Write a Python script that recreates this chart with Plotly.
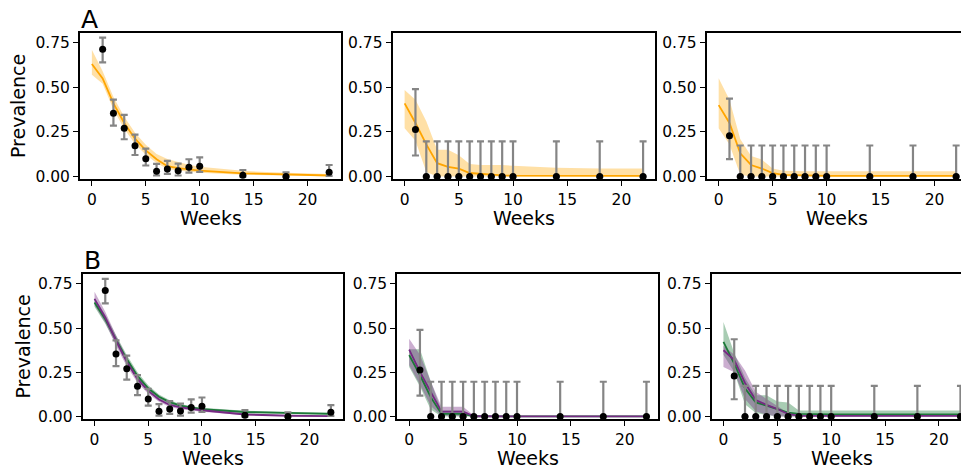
import plotly.graph_objects as go

W, H = 961, 470

# ---------------- data ----------------
weeks = [1, 2, 3, 4, 5, 6, 7, 8, 9, 10, 14, 18, 22]
model_t = [0, 1, 2, 3, 4, 5, 6, 7, 8, 9, 10, 14, 18, 22]

# observed prevalence (same in rows A and B), per column
obs_c1 = [0.713, 0.354, 0.270, 0.172, 0.100, 0.030, 0.043, 0.032, 0.052, 0.058, 0.007, 0.000, 0.024]
lo_c1 = [0.640, 0.285, 0.209, 0.121, 0.062, 0.006, 0.015, 0.006, 0.022, 0.026, 0.000, 0.000, 0.004]
hi_c1 = [0.778, 0.431, 0.345, 0.235, 0.157, 0.071, 0.088, 0.073, 0.097, 0.108, 0.037, 0.024, 0.065]

obs_c2 = [0.263, 0, 0, 0, 0, 0, 0, 0, 0, 0, 0, 0, 0]
lo_c2 = [0.118, 0, 0, 0, 0, 0, 0, 0, 0, 0, 0, 0, 0]
hi_c2 = [0.490, 0.197, 0.197, 0.197, 0.197, 0.197, 0.197, 0.197, 0.197, 0.197, 0.197, 0.197, 0.197]

obs_c3 = [0.229, 0, 0, 0, 0, 0, 0, 0, 0, 0, 0, 0, 0]
lo_c3 = [0.098, 0, 0, 0, 0, 0, 0, 0, 0, 0, 0, 0, 0]
hi_c3 = [0.437, 0.174, 0.174, 0.174, 0.174, 0.174, 0.174, 0.174, 0.174, 0.174, 0.174, 0.174, 0.174]

# row A model (orange)
a1_mid = [0.630, 0.550, 0.410, 0.300, 0.212, 0.147, 0.097, 0.058, 0.048, 0.039, 0.033, 0.018, 0.010, 0.006]
a1_lo = [0.570, 0.520, 0.375, 0.268, 0.182, 0.122, 0.076, 0.042, 0.034, 0.027, 0.022, 0.010, 0.004, 0.002]
a1_hi = [0.710, 0.590, 0.445, 0.335, 0.245, 0.178, 0.127, 0.098, 0.082, 0.066, 0.055, 0.032, 0.021, 0.015]

a2_mid = [0.410, 0.300, 0.180, 0.075, 0.055, 0.045, 0.020, 0.015, 0.010, 0.007, 0.005, 0.004, 0.004, 0.004]
a2_lo = [0.270, 0.200, 0.025, 0, 0, 0, 0, 0, 0, 0, 0, 0, 0, 0]
a2_hi = [0.485, 0.430, 0.310, 0.150, 0.150, 0.120, 0.070, 0.065, 0.065, 0.065, 0.060, 0.050, 0.045, 0.045]

a3_mid = [0.400, 0.300, 0.130, 0.065, 0.045, 0.020, 0.010, 0.007, 0.005, 0.005, 0.004, 0.004, 0.004, 0.004]
a3_lo = [0.270, 0.180, 0.010, 0, 0, 0, 0, 0, 0, 0, 0, 0, 0, 0]
a3_hi = [0.550, 0.430, 0.210, 0.115, 0.095, 0.045, 0.033, 0.030, 0.030, 0.030, 0.030, 0.030, 0.030, 0.030]

# row B models: green and purple
b1_g_mid = [0.645, 0.550, 0.435, 0.325, 0.230, 0.160, 0.112, 0.082, 0.062, 0.050, 0.042, 0.026, 0.019, 0.016]
b1_g_lo = [0.620, 0.525, 0.410, 0.303, 0.210, 0.145, 0.099, 0.071, 0.053, 0.042, 0.034, 0.019, 0.013, 0.010]
b1_g_hi = [0.670, 0.575, 0.460, 0.348, 0.250, 0.177, 0.125, 0.093, 0.071, 0.058, 0.050, 0.033, 0.026, 0.023]
b1_p_mid = [0.665, 0.560, 0.430, 0.310, 0.212, 0.145, 0.097, 0.066, 0.052, 0.043, 0.036, 0.012, 0.005, 0.003]
b1_p_lo = [0.630, 0.530, 0.400, 0.285, 0.192, 0.129, 0.084, 0.055, 0.042, 0.035, 0.028, 0.007, 0.002, 0.001]
b1_p_hi = [0.705, 0.592, 0.460, 0.335, 0.234, 0.162, 0.110, 0.077, 0.062, 0.051, 0.044, 0.018, 0.009, 0.006]

b2_g_mid = [0.347, 0.235, 0.110, 0.015, 0.015, 0.015, 0.002, 0.001, 0.001, 0.001, 0.001, 0.001, 0.001, 0.001]
b2_g_lo = [0.280, 0.170, 0.040, 0, 0, 0, 0, 0, 0, 0, 0, 0, 0, 0]
b2_g_hi = [0.380, 0.380, 0.200, 0.035, 0.035, 0.035, 0.004, 0.002, 0.002, 0.002, 0.002, 0.002, 0.002, 0.002]
b2_p_mid = [0.379, 0.253, 0.140, 0.028, 0.028, 0.028, 0.002, 0.001, 0.001, 0.001, 0.001, 0.001, 0.001, 0.001]
b2_p_lo = [0.290, 0.180, 0.060, 0.005, 0.005, 0.005, 0, 0, 0, 0, 0, 0, 0, 0]
b2_p_hi = [0.440, 0.350, 0.200, 0.056, 0.056, 0.056, 0.006, 0.003, 0.003, 0.003, 0.003, 0.003, 0.003, 0.003]

b3_g_mid = [0.422, 0.300, 0.160, 0.080, 0.062, 0.043, 0.022, 0.015, 0.014, 0.014, 0.013, 0.013, 0.012, 0.012]
b3_g_lo = [0.350, 0.250, 0.070, 0.020, 0.010, 0, 0, 0, 0, 0, 0, 0, 0, 0]
b3_g_hi = [0.535, 0.360, 0.220, 0.120, 0.120, 0.085, 0.080, 0.035, 0.035, 0.035, 0.035, 0.035, 0.035, 0.035]
b3_p_mid = [0.375, 0.320, 0.190, 0.094, 0.066, 0.043, 0.015, 0.004, 0.004, 0.004, 0.004, 0.004, 0.004, 0.004]
b3_p_lo = [0.280, 0.250, 0.100, 0.030, 0.010, 0, 0, 0, 0, 0, 0, 0, 0, 0]
b3_p_hi = [0.400, 0.350, 0.260, 0.140, 0.100, 0.060, 0.020, 0.010, 0.010, 0.010, 0.010, 0.010, 0.010, 0.010]

x_ticks = [0, 5, 10, 15, 20]
y_ticks = [0, 0.25, 0.5, 0.75]

# ---------------- styles ----------------
FONT = "DejaVu Sans"
ORANGE = "#FFA500"
ORANGE_BAND = "rgba(255,165,0,0.35)"
GREEN = "#1b7837"
GREEN_BAND = "rgba(27,120,55,0.38)"
PURPLE = "#762a83"
PURPLE_BAND = "rgba(118,42,131,0.38)"
ERR = "#858585"


def px_x(p):
    """pixel -> paper fraction"""
    return p / W


def px_y(p):
    return 1 - p / H


# panel boxes in pixels: (left, right, top, bottom, xrange_max)
panels = [
    (80.0, 341.0, 33.0, 179.0, 23.1),
    (392.7, 655.0, 33.0, 179.0, 23.1),
    (706.8, 961.0, 33.0, 179.0, 22.45),
    (82.7, 342.7, 274.3, 419.0, 23.1),
    (397.3, 658.3, 274.3, 419.0, 23.1),
    (711.6, 961.0, 274.3, 419.0, 22.05),
]

obs_sets = [(obs_c1, lo_c1, hi_c1), (obs_c2, lo_c2, hi_c2), (obs_c3, lo_c3, hi_c3)]
rowA = [(a1_mid, a1_lo, a1_hi), (a2_mid, a2_lo, a2_hi), (a3_mid, a3_lo, a3_hi)]
rowB = [
    [(b1_g_mid, b1_g_lo, b1_g_hi, GREEN, GREEN_BAND), (b1_p_mid, b1_p_lo, b1_p_hi, PURPLE, PURPLE_BAND)],
    [(b2_g_mid, b2_g_lo, b2_g_hi, GREEN, GREEN_BAND), (b2_p_mid, b2_p_lo, b2_p_hi, PURPLE, PURPLE_BAND)],
    [(b3_g_mid, b3_g_lo, b3_g_hi, GREEN, GREEN_BAND), (b3_p_mid, b3_p_lo, b3_p_hi, PURPLE, PURPLE_BAND)],
]

fig = go.Figure()


def add_band(lo, hi, band, xa, ya):
    fig.add_trace(go.Scatter(x=model_t, y=lo, mode="lines", line=dict(width=0, color=band),
                             xaxis=xa, yaxis=ya, showlegend=False, hoverinfo="skip"))
    fig.add_trace(go.Scatter(x=model_t, y=hi, mode="lines", line=dict(width=0, color=band),
                             fill="tonexty", fillcolor=band,
                             xaxis=xa, yaxis=ya, showlegend=False, hoverinfo="skip"))


def add_line(mid, color, xa, ya):
    fig.add_trace(go.Scatter(x=model_t, y=mid, mode="lines", line=dict(width=1.8, color=color),
                             xaxis=xa, yaxis=ya, showlegend=False))


def add_obs(col, xa, ya):
    obs, lo, hi = obs_sets[col]
    fig.add_trace(go.Scatter(
        x=weeks, y=obs, mode="markers",
        marker=dict(color="black", size=7),
        error_y=dict(type="data", symmetric=False,
                     array=[h - o for h, o in zip(hi, obs)],
                     arrayminus=[o - l for o, l in zip(obs, lo)],
                     color=ERR, thickness=2.2, width=3.5),
        cliponaxis=True, xaxis=xa, yaxis=ya, showlegend=False))


for i in range(6):
    idx = "" if i == 0 else str(i + 1)
    xa, ya = "x" + idx, "y" + idx
    col = i % 3
    if i < 3:
        mid, lo, hi = rowA[col]
        add_band(lo, hi, ORANGE_BAND, xa, ya)
        add_line(mid, ORANGE, xa, ya)
    else:
        for (mid, lo, hi, c, b) in rowB[col]:
            add_band(lo, hi, b, xa, ya)
        for (mid, lo, hi, c, b) in rowB[col]:
            add_line(mid, c, xa, ya)
    add_obs(col, xa, ya)

layout = dict(
    width=W, height=H,
    margin=dict(l=0, r=0, t=0, b=0, autoexpand=False),
    paper_bgcolor="white", plot_bgcolor="white",
    font=dict(family=FONT, color="black", size=15.5),
    showlegend=False,
)

for i, (l, r, t, b, xmax) in enumerate(panels):
    idx = "" if i == 0 else str(i + 1)
    last_col = (i % 3) == 2
    layout["xaxis" + idx] = dict(
        domain=[px_x(l), min(1.0, px_x(r))], anchor="y" + idx,
        range=[-1.1, xmax], tickvals=x_ticks, ticktext=[str(v) for v in x_ticks],
        showline=True, linecolor="black", linewidth=2, mirror=True,
        ticks="outside", ticklen=5, tickwidth=1.3, tickcolor="black",
        showgrid=False, zeroline=False, tickfont=dict(size=15.5), automargin=False,
    )
    layout["yaxis" + idx] = dict(
        domain=[px_y(b), px_y(t)], anchor="x" + idx,
        range=[-0.0135, 0.804], tickvals=y_ticks, tickformat=".2f",
        showline=True, linecolor="black", linewidth=2, mirror=(not last_col),
        ticks="outside", ticklen=5, tickwidth=1.3, tickcolor="black",
        showgrid=False, zeroline=False, tickfont=dict(size=15.5), automargin=False,
    )

annotations = []
for i, (l, r, t, b, xmax) in enumerate(panels):
    if i % 3 == 2:
        # centre of the full (uncropped) axis
        cx = l + (23.1 + 1.1) / (xmax + 1.1) * (r - l) / 2
    else:
        cx = (l + r) / 2
    annotations.append(dict(text="Weeks", x=px_x(cx), y=px_y(b + 39), xref="paper", yref="paper",
                            xanchor="center", yanchor="middle", showarrow=False,
                            font=dict(size=19, family=FONT)))

annotations.append(dict(text="Prevalence", x=px_x(18), y=px_y(106), xref="paper", yref="paper",
                        xanchor="center", yanchor="middle", textangle=-90, showarrow=False,
                        font=dict(size=19, family=FONT)))
annotations.append(dict(text="Prevalence", x=px_x(22), y=px_y(346.5), xref="paper", yref="paper",
                        xanchor="center", yanchor="middle", textangle=-90, showarrow=False,
                        font=dict(size=19, family=FONT)))
annotations.append(dict(text="A", x=px_x(89), y=px_y(3), xref="paper", yref="paper",
                        xanchor="center", yanchor="top", showarrow=False,
                        font=dict(size=25, family=FONT)))
annotations.append(dict(text="B", x=px_x(92), y=px_y(244), xref="paper", yref="paper",
                        xanchor="center", yanchor="top", showarrow=False,
                        font=dict(size=25, family=FONT)))
layout["annotations"] = annotations

fig.update_layout(**layout)
fig.write_html(
    "out.html",
    config={"displayModeBar": False},
    post_script="document.body.style.margin='0';document.body.style.overflow='hidden';"
                "document.documentElement.style.overflow='hidden';",
)
